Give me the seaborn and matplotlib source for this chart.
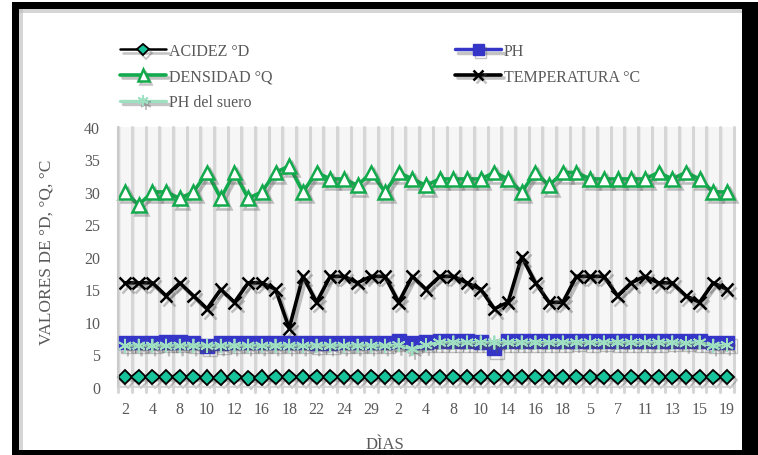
import numpy as np
import pandas as pd
import matplotlib
matplotlib.use("Agg")
import matplotlib.pyplot as plt
import matplotlib.patheffects as pe
from matplotlib.patches import Rectangle
from matplotlib.lines import Line2D
import seaborn as sns

# ---- data ----
dias = ["2", "3", "4", "6", "8", "9", "10", "11", "12", "15", "16", "17", "18", "19",
        "22", "23", "24", "26", "29", "30", "2 ", "3 ", "4 ", "7 ", "8 ", "9 ", "10 ",
        "11 ", "14", "15 ", "16 ", "17 ", "18 ", "4 .", "5", "6 ", "7", "8 .", "11 .",
        "12 ", "13", "14 ", "15 .", "18 .", "19"]
tick_labels = ["2", "4", "8", "10", "12", "16", "18", "22", "24", "29", "2", "4", "8",
               "10", "14", "16", "18", "5", "7", "11", "13", "15", "19"]

acidez = [1.5, 1.5, 1.5, 1.5, 1.5, 1.5, 1.4, 1.4, 1.5, 1.3, 1.4, 1.5, 1.5, 1.5, 1.5,
          1.5, 1.5, 1.5, 1.5, 1.5, 1.5, 1.5, 1.5, 1.5, 1.5, 1.5, 1.5, 1.5, 1.5, 1.5,
          1.5, 1.5, 1.5, 1.5, 1.5, 1.5, 1.5, 1.5, 1.5, 1.5, 1.5, 1.5, 1.5, 1.5, 1.5]
ph = [6.8, 6.8, 6.8, 6.9, 6.9, 6.8, 6.3, 6.7, 6.8, 6.8, 6.8, 6.8, 6.8, 6.8, 6.7,
      6.7, 6.8, 6.8, 6.8, 6.8, 7.1, 6.8, 6.9, 7.0, 7.0, 7.0, 6.9, 5.9, 7.0, 7.0,
      7.0, 7.0, 7.0, 7.1, 7.0, 7.1, 7.0, 7.0, 7.0, 7.0, 7.1, 7.1, 7.0, 6.8, 6.8]
densidad = [30, 28, 30, 30, 29, 30, 33, 29, 33, 29, 30, 33, 34, 30, 33,
            32, 32, 31, 33, 30, 33, 32, 31, 32, 32, 32, 32, 33, 32, 30,
            33, 31, 33, 33, 32, 32, 32, 32, 32, 33, 32, 33, 32, 30, 30]
temperatura = [16, 16, 16, 14, 16, 14, 12, 15, 13, 16, 16, 15, 9, 17, 13,
               17, 17, 16, 17, 17, 13, 17, 15, 17, 17, 16, 15, 12, 13, 20,
               16, 13, 13, 17, 17, 17, 14, 16, 17, 16, 16, 14, 13, 16, 15]
ph_suero = [6.3, 6.3, 6.3, 6.3, 6.3, 6.3, 6.3, 6.3, 6.3, 6.3, 6.3, 6.3, 6.3, 6.3, 6.3,
            6.3, 6.3, 6.3, 6.3, 6.3, 6.4, 5.8, 6.4, 6.8, 6.8, 6.8, 6.8, 6.8, 6.8, 6.8,
            6.8, 6.8, 6.8, 6.8, 6.8, 6.8, 6.8, 6.8, 6.8, 6.8, 6.8, 6.7, 6.8, 6.3, 6.4]

series_names = ["ACIDEZ °D", "PH", "DENSIDAD °Q", "TEMPERATURA °C", "PH del suero"]

df = pd.DataFrame({"dia": dias, "idx": np.arange(len(dias)),
                   "ACIDEZ °D": acidez, "PH": ph, "DENSIDAD °Q": densidad,
                   "TEMPERATURA °C": temperatura, "PH del suero": ph_suero})
long = df.melt(id_vars=["dia", "idx"], value_vars=series_names,
               var_name="serie", value_name="valor")

sns.set_theme(style="white")
plt.rcParams["font.family"] = ["Liberation Serif", "DejaVu Serif"]

W, H = 758, 456
fig = plt.figure(figsize=(W / 100, H / 100), dpi=100)
fig.patch.set_facecolor("white")

ax_left, ax_right, ax_top, ax_bot = 118.2, 733.8, 128.0, 387.7
ax = fig.add_axes([ax_left / W, 1 - ax_bot / H, (ax_right - ax_left) / W, (ax_bot - ax_top) / H])
ax.set_facecolor("#f6f6f6")

styles = {
    "ACIDEZ °D": dict(color="black", lw=1.8, marker="D", ms=7.5, mfc="#17c39b", mec="black", mew=1.3),
    "PH": dict(color="#3535c8", lw=2.5, marker="s", ms=10, mfc="#3535c8", mec="#3535c8", mew=1),
    "DENSIDAD °Q": dict(color="#12aa4c", lw=2.6, marker="^", ms=10, mfc="white", mec="#12aa4c", mew=1.8),
    "TEMPERATURA °C": dict(color="black", lw=2.6, marker="x", ms=9, mfc="black", mec="black", mew=1.8),
    "PH del suero": dict(color="#9fe0c2", lw=2.4, marker=(6, 2, 0), ms=10, mfc="#9fe0c2", mec="#9fe0c2", mew=1.3),
}
shadow = [pe.SimpleLineShadow(offset=(2, -2.5), shadow_color="#555555", alpha=0.35), pe.Normal()]

order = ["DENSIDAD °Q", "TEMPERATURA °C", "PH", "PH del suero", "ACIDEZ °D"]
for name in order:
    sub = long[long["serie"] == name]
    st = styles[name]
    sns.lineplot(data=sub, x="idx", y="valor", ax=ax, color=st["color"], linewidth=st["lw"],
                 marker=st["marker"], markersize=st["ms"], markerfacecolor=st["mfc"],
                 markeredgecolor=st["mec"], markeredgewidth=st["mew"], legend=False,
                 estimator=None, sort=False)
for ln in ax.lines:
    ln.set_path_effects(shadow)
    ln.set_clip_on(False)

n = len(dias)
ax.set_xlim(-0.5, n - 0.5)
ax.set_ylim(0, 40)
ax.set_yticks(np.arange(0, 41, 5))
ax.set_xticks(np.arange(0, n, 2))
ax.set_xticklabels(tick_labels)

# vertical gridlines at category boundaries (extend slightly below the axis)
for k in range(n + 1):
    ax.axvline(k - 0.5, ymin=-0.02, ymax=1, color="#d6d6d6", lw=2.2, zorder=0.5, clip_on=False)
    ax.axvline(k - 0.5 + 0.12, color="#ebebeb", lw=1.5, zorder=0.4)

for s in ["top", "right"]:
    ax.spines[s].set_visible(False)
ax.spines["left"].set_color("#c8c8c8")
ax.spines["bottom"].set_color("#d0d0d0")
ax.spines["left"].set_linewidth(1.2)
ax.spines["bottom"].set_linewidth(1.2)
ax.tick_params(axis="y", length=5, width=1.2, color="#c8c8c8", pad=8, labelsize=11.5, labelcolor="#595959")
ax.tick_params(axis="x", length=0, pad=10, labelsize=11.5, labelcolor="#595959")

ax.set_xlabel("DÌAS", fontsize=12, color="#595959")
ax.set_ylabel("VALORES DE °D, °Q, °C", fontsize=12.5, color="#595959")
ax.xaxis.set_label_coords(0.433, -0.19)
ax.yaxis.set_label_coords(-0.104, 0.52)

# legends
def handle(name):
    st = styles[name]
    return Line2D([], [], color=st["color"], lw=st["lw"], marker=st["marker"], ms=st["ms"] * 0.8,
                  mfc=st["mfc"], mec=st["mec"], mew=st["mew"], path_effects=shadow)

leg_kw = dict(frameon=False, fontsize=11.5, handlelength=2.9, handletextpad=0.15,
              labelspacing=0.6, borderpad=0, labelcolor="#595959", loc="upper left")
col1 = ["ACIDEZ °D", "DENSIDAD °Q", "PH del suero"]
col2 = ["PH", "TEMPERATURA °C"]
fig.legend([handle(c) for c in col1], col1, bbox_to_anchor=(112 / W, 1 - 36 / H), **leg_kw)
fig.legend([handle(c) for c in col2], col2, bbox_to_anchor=(447 / W, 1 - 36 / H), **leg_kw)

# outer black frame
def rect(x0, y0, x1, y1, color="black", z=10, alpha=1.0):
    fig.add_artist(Rectangle((x0 / W, 1 - y1 / H), (x1 - x0) / W, (y1 - y0) / H,
                             transform=fig.transFigure, facecolor=color, edgecolor="none",
                             zorder=z, alpha=alpha))

# soft inner shadow
rect(19, 10, 742, 14, color="#bbbbbb", z=9, alpha=0.6)
rect(19, 10, 23, 451, color="#bbbbbb", z=9, alpha=0.6)
rect(12, 3, 758, 10)
rect(12, 3, 19, 456)
rect(742, 3, 758, 456)
rect(12, 451, 758, 456)

fig.savefig("out.png", dpi=100, facecolor="white")
